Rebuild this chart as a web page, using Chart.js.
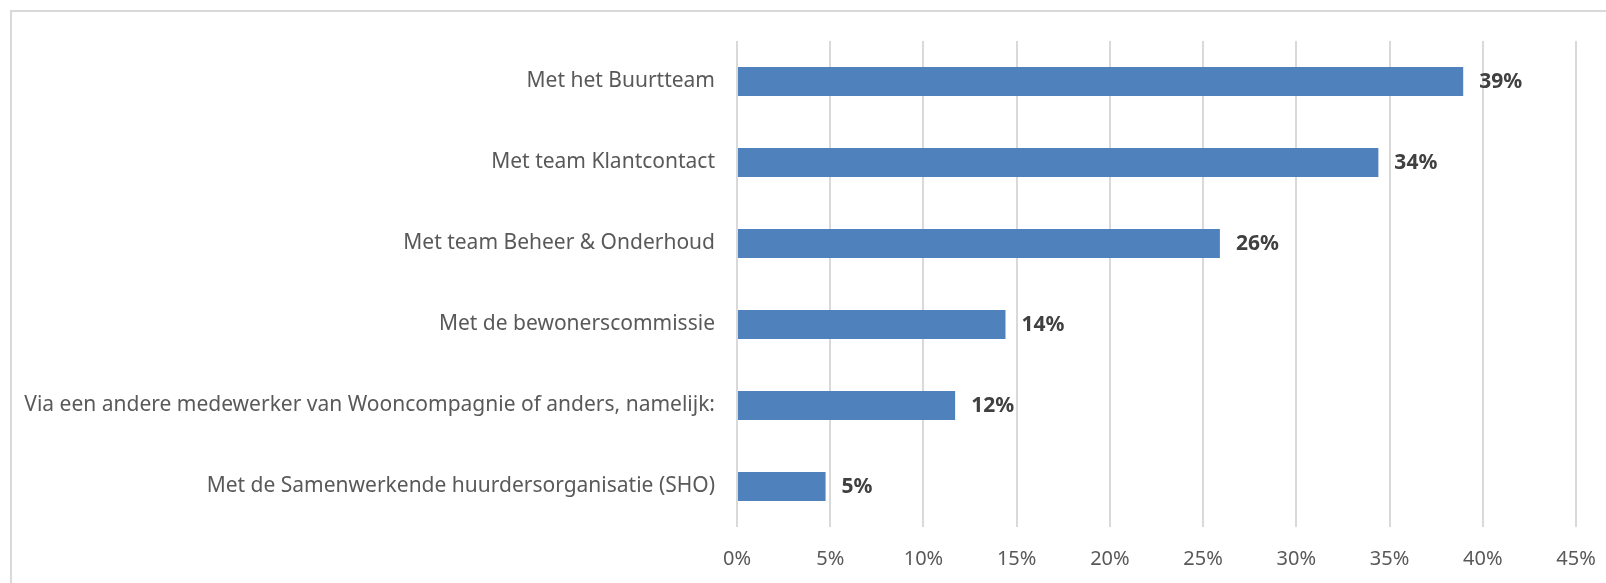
<!DOCTYPE html>
<html>
<head>
<meta charset="utf-8">
<script src="https://cdn.jsdelivr.net/npm/chart.js@4"></script>
<style>
  html, body { margin: 0; padding: 0; background: #fff; overflow: hidden; }
  #wrap { position: relative; width: 1606px; height: 583px; }
  #frame {
    position: absolute; left: 10px; top: 10px; width: 1700px; height: 700px;
    border: 2px solid #d9d9d9; box-sizing: border-box; pointer-events: none;
  }
  canvas { position: absolute; left: 0; top: 0; }
</style>
</head>
<body>
<div id="wrap">
  <canvas id="chart" width="1606" height="583"></canvas>
  <div id="frame"></div>
</div>
<script>
const categories = [
  "Met het Buurtteam",
  "Met team Klantcontact",
  "Met team Beheer & Onderhoud",
  "Met de bewonerscommissie",
  "Via een andere medewerker van Wooncompagnie of anders, namelijk:",
  "Met de Samenwerkende huurdersorganisatie (SHO)"
];
const shares = [38.95, 34.4, 25.9, 14.4, 11.7, 4.75];
const shareLabels = ["39%", "34%", "26%", "14%", "12%", "5%"];

const FONT = "'Noto Sans', sans-serif";

// draws the bold percentage next to each bar
const valueLabels = {
  id: "valueLabels",
  afterDatasetsDraw(chart) {
    const ctx = chart.ctx;
    const meta = chart.getDatasetMeta(0);
    ctx.save();
    ctx.font = "bold 21px " + FONT;
    ctx.fillStyle = "#404040";
    ctx.textAlign = "left";
    ctx.textBaseline = "middle";
    meta.data.forEach((bar, i) => {
      ctx.fillText(shareLabels[i], bar.x + 16, bar.y + 1);
    });
    ctx.restore();
  }
};

new Chart(document.getElementById("chart"), {
  type: "bar",
  data: {
    labels: categories,
    datasets: [
      {
        data: shares,
        backgroundColor: "#4f81bd",
        borderWidth: 0,
        categoryPercentage: 1,
        barPercentage: 0.36
      }
    ]
  },
  options: {
    indexAxis: "y",
    responsive: false,
    animation: false,
    layout: { padding: { top: 41, right: 30, bottom: 0, left: 0 } },
    plugins: {
      legend: { display: false },
      tooltip: { enabled: false }
    },
    scales: {
      x: {
        min: 0,
        max: 45,
        ticks: {
          stepSize: 5,
          callback: (v) => v + "%",
          color: "#595959",
          font: { family: FONT, size: 20 },
          padding: 8,
          maxRotation: 0
        },
        grid: {
          color: "#d9d9d9",
          lineWidth: 2,
          drawTicks: true,
          tickLength: 12,
          tickColor: "rgba(0,0,0,0)"
        },
        border: { display: false },
        afterFit: (axis) => { axis.height = 56; }
      },
      y: {
        ticks: {
          color: "#595959",
          font: { family: FONT, size: 21 },
          padding: 22
        },
        grid: { display: false, drawTicks: false },
        border: { display: false },
        afterFit: (axis) => { axis.width = 737; }
      }
    }
  },
  plugins: [valueLabels]
});
</script>
</body>
</html>
